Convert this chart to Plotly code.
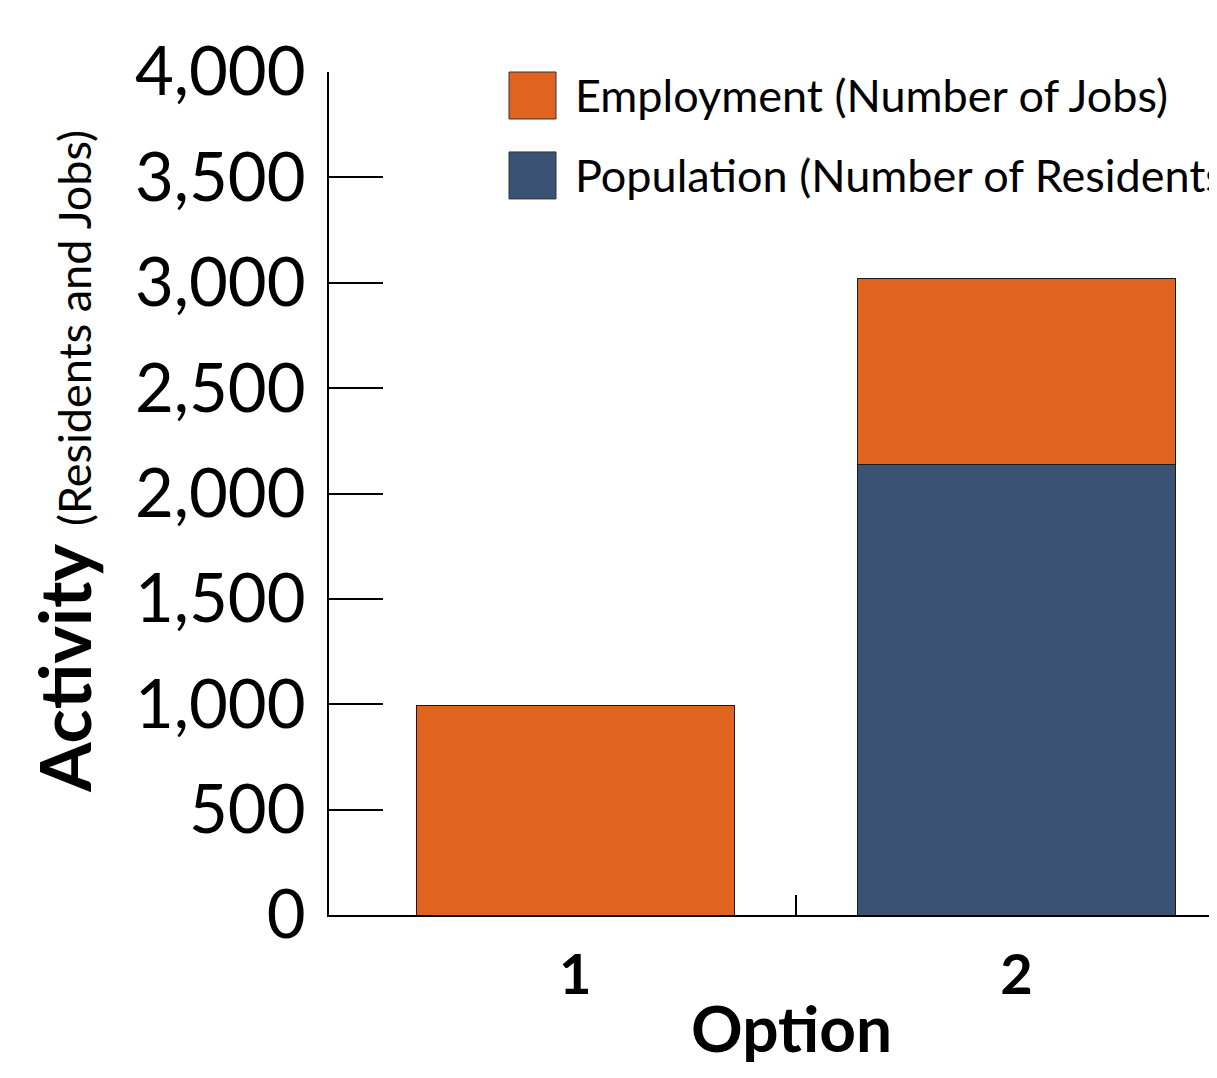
import plotly.graph_objects as go

# ---- data ----
options = [1, 2]
option_labels = ["1", "2"]
population = [0, 2140]      # Number of Residents
employment = [995, 880]     # Number of Jobs
series_names = ["Employment (Number of Jobs)", "Population (Number of Residents)"]
y_ticks = [0, 500, 1000, 1500, 2000, 2500, 3000, 3500, 4000]

ORANGE = "#E06320"
BLUE = "#3A5273"
FONT = "Lato"

OFF = 8                      # page body margin
W, H = 1217 - 2 * OFF, 1078 - 2 * OFF
# plot-area edges in screenshot pixels
L, R, T, B = 329, 1217 - OFF, 72, 915.5


def px(x):
    return (x - L) / (R - L)


def py(y):
    return (B - y) / (B - T)


fig = go.Figure()
fig.add_trace(go.Bar(x=options, y=population, name=series_names[1], width=0.72,
                     marker=dict(color=BLUE, line=dict(color="#1a1a1a", width=1)),
                     showlegend=False))
fig.add_trace(go.Bar(x=options, y=employment, name=series_names[0], width=0.72,
                     marker=dict(color=ORANGE, line=dict(color="#1a1a1a", width=1)),
                     showlegend=False))

fig.update_layout(
    width=W, height=H,
    margin=dict(l=L - OFF, r=(W + OFF) - R, t=T - OFF, b=(H + OFF) - B, pad=0),
    barmode="stack",
    plot_bgcolor="white", paper_bgcolor="white",
    font=dict(family=FONT, color="black"),
)

fig.update_xaxes(
    range=[0.442, 2.436],
    tickvals=options, ticktext=[f"<b>{t}</b>" for t in option_labels],
    ticks="", tickfont=dict(size=56, family=FONT, color="black"),
    ticklabelstandoff=10,
    showline=True, linecolor="black", linewidth=2,
    showgrid=False, zeroline=False,
    minor=dict(tickvals=[1.5], ticks="inside", ticklen=20, tickwidth=2, tickcolor="black", showgrid=False),
)
fig.update_yaxes(
    range=[0, 4000],
    tickvals=y_ticks, ticktext=[f"{v:,}" for v in y_ticks],
    ticks="inside", ticklen=54, tickwidth=2, tickcolor="black",
    tickfont=dict(size=67, family=FONT, color="black"),
    ticklabelstandoff=8,
    showline=True, linecolor="black", linewidth=2,
    showgrid=False, zeroline=False,
)

# axis titles
fig.add_annotation(xref="paper", yref="paper", x=px(791), y=py(1069),
                   text="<b>Option</b>", showarrow=False,
                   font=dict(size=64, family=FONT, color="black"),
                   xanchor="center", yanchor="bottom")
fig.add_annotation(xref="paper", yref="paper", x=px(64), y=py(462),
                   text="<b>Activity</b> <span style='font-size:45px'>(Residents and Jobs)</span>",
                   showarrow=False, textangle=-90,
                   font=dict(size=71, family=FONT, color="black"),
                   xanchor="center", yanchor="middle")

# legend (drawn as boxes + text)
legend_rows = [(series_names[0], ORANGE, 72, 119), (series_names[1], BLUE, 152, 199)]
for name, col, y0, y1 in legend_rows:
    fig.add_shape(type="rect", xref="paper", yref="paper",
                  x0=px(509), x1=px(556), y0=py(y1), y1=py(y0),
                  fillcolor=col, line=dict(color="#333333", width=1))
    fig.add_annotation(xref="paper", yref="paper", x=px(573), y=py((y0 + y1) / 2),
                       text=name, showarrow=False, xanchor="left", yanchor="middle",
                       font=dict(size=45, family=FONT, color="black"))

fig.write_html("out.html")
